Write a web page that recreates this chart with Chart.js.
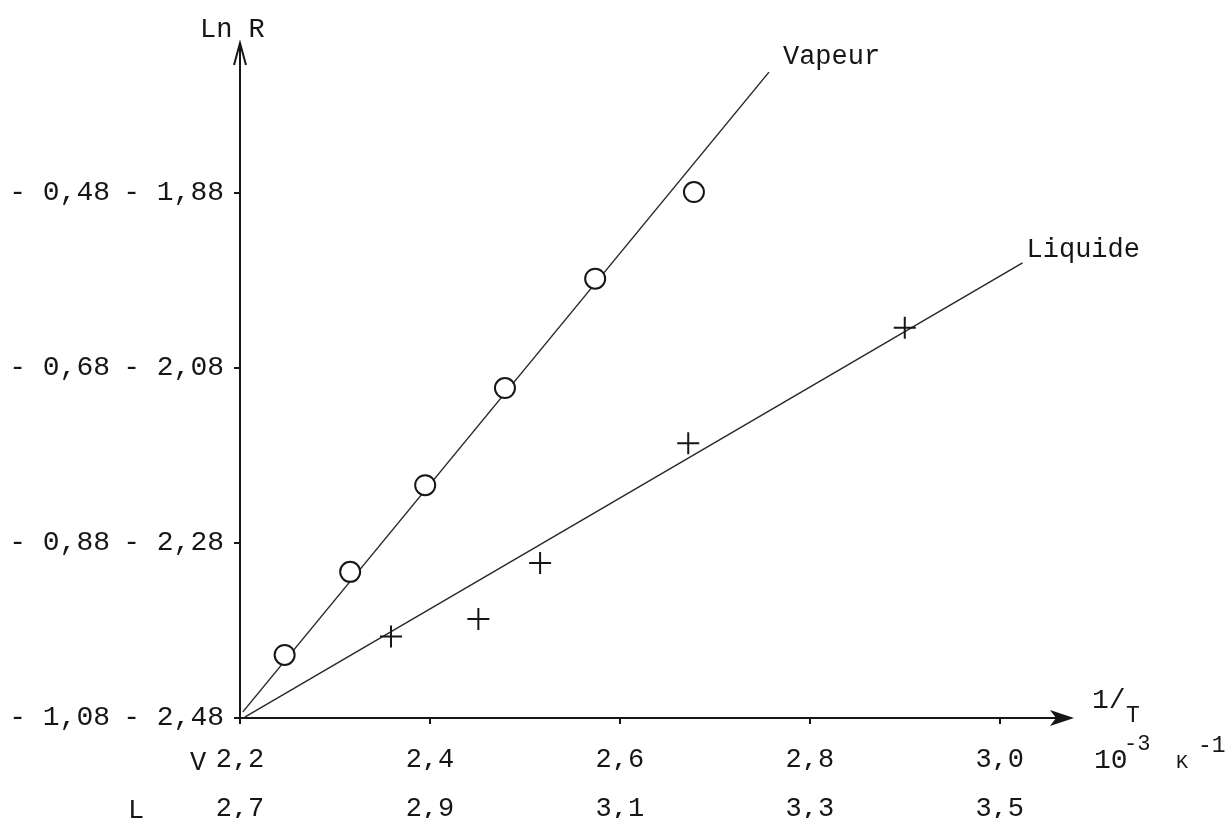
<!DOCTYPE html>
<html>
<head>
<meta charset="utf-8">
<script src="https://cdn.jsdelivr.net/npm/chart.js@4"></script>
<style>
  html, body { margin: 0; padding: 0; background: #fff; }
  #wrap { width: 1225px; height: 828px; }
</style>
</head>
<body>
<div id="wrap"><canvas id="myChart"></canvas></div>
<script>
// Vapeur (echelle V) : 1/T en 10^-3 K^-1, Ln R
const vapeurX = [2.247, 2.316, 2.395, 2.479, 2.574, 2.678];
const vapeurY = [-2.408, -2.313, -2.214, -2.103, -1.978, -1.879];
const vapeurFitX = [2.203, 2.757];
const vapeurFitY = [-2.473, -1.742];

// Liquide (echelle L)
const liquideX = [2.859, 2.951, 3.016, 3.172, 3.400];
const liquideY = [-0.987, -0.967, -0.903, -0.766, -0.634];
const liquideFitX = [2.705, 3.524];
const liquideFitY = [-1.079, -0.560];

const xTicksV = [2.2, 2.4, 2.6, 2.8, 3.0];
const xLabelsV = ["2,2", "2,4", "2,6", "2,8", "3,0"];
const xTicksL = [2.7, 2.9, 3.1, 3.3, 3.5];
const xLabelsL = ["2,7", "2,9", "3,1", "3,3", "3,5"];
const yTicksV = [-2.48, -2.28, -2.08, -1.88];
const yLabelsV = ["- 2,48", "- 2,28", "- 2,08", "- 1,88"];
const yTicksL = [-1.08, -0.88, -0.68, -0.48];
const yLabelsL = ["- 1,08", "- 0,88", "- 0,68", "- 0,48"];

const ink = "#161616";
const font = "Liberation Mono";

const toPoints = (xs, ys) => xs.map((x, i) => ({ x: x, y: ys[i] }));
const setTicks = (values) => (scale) => {
  scale.ticks = values.map((v) => ({ value: v }));
};

const axisDecor = {
  id: "axisDecor",
  afterDraw(chart) {
    const ctx = chart.ctx;
    const a = chart.chartArea;
    ctx.save();
    ctx.strokeStyle = ink;
    ctx.fillStyle = ink;
    ctx.lineWidth = 2;

    // fleche axe vertical
    ctx.beginPath();
    ctx.moveTo(a.left - 6, a.top + 20);
    ctx.lineTo(a.left, a.top - 2);
    ctx.lineTo(a.left + 6, a.top + 20);
    ctx.stroke();

    // fleche axe horizontal
    ctx.beginPath();
    ctx.moveTo(a.right + 4, a.bottom);
    ctx.lineTo(a.right - 20, a.bottom - 8);
    ctx.lineTo(a.right - 14, a.bottom);
    ctx.lineTo(a.right - 20, a.bottom + 8);
    ctx.closePath();
    ctx.fill();

    ctx.textBaseline = "alphabetic";
    ctx.textAlign = "left";
    ctx.font = "27px " + font;
    ctx.fillText("Ln R", a.left - 40, a.top - 8);

    const xs = chart.scales.x, ys = chart.scales.y;
    const xl = chart.scales.xL, yl = chart.scales.yL;
    const vx = xs.getPixelForValue(vapeurFitX[1]);
    const vy = ys.getPixelForValue(vapeurFitY[1]);
    ctx.fillText("Vapeur", vx + 14, vy - 8);
    const lx = xl.getPixelForValue(liquideFitX[1]);
    const ly = yl.getPixelForValue(liquideFitY[1]);
    ctx.fillText("Liquide", lx + 4, ly - 6);

    // unite de l'abscisse
    ctx.font = "28px " + font;
    ctx.fillText("1/", a.right + 22, a.bottom - 10);
    ctx.font = "23px " + font;
    ctx.fillText("T", a.right + 56, a.bottom + 4);
    ctx.font = "28px " + font;
    ctx.fillText("10", a.right + 24, a.bottom + 50);
    ctx.font = "22px " + font;
    ctx.fillText("-3", a.right + 54, a.bottom + 32);
    ctx.font = "20px " + font;
    ctx.fillText("K", a.right + 106, a.bottom + 50);
    ctx.font = "23px " + font;
    ctx.fillText("-1", a.right + 128, a.bottom + 34);

    // noms des echelles
    ctx.font = "27px " + font;
    ctx.fillText("V", a.left - 50, a.bottom + 52);
    ctx.fillText("L", a.left - 112, a.bottom + 100);
    ctx.restore();
  },
};

new Chart(document.getElementById("myChart"), {
  type: "scatter",
  data: {
    datasets: [
      {
        label: "Vapeur",
        data: toPoints(vapeurX, vapeurY),
        xAxisID: "x",
        yAxisID: "y",
        pointStyle: "circle",
        pointRadius: 10,
        borderWidth: 2,
        borderColor: ink,
        backgroundColor: "#fff",
        order: 0,
      },
      {
        label: "Liquide",
        data: toPoints(liquideX, liquideY),
        xAxisID: "xL",
        yAxisID: "yL",
        pointStyle: "cross",
        pointRadius: 11,
        borderWidth: 2,
        borderColor: ink,
        order: 0,
      },
      {
        label: "Vapeur (droite)",
        data: toPoints(vapeurFitX, vapeurFitY),
        xAxisID: "x",
        yAxisID: "y",
        showLine: true,
        pointRadius: 0,
        borderWidth: 1.5,
        borderColor: "#2a2a2a",
        order: 1,
      },
      {
        label: "Liquide (droite)",
        data: toPoints(liquideFitX, liquideFitY),
        xAxisID: "xL",
        yAxisID: "yL",
        showLine: true,
        pointRadius: 0,
        borderWidth: 1.5,
        borderColor: "#2a2a2a",
        order: 1,
      },
    ],
  },
  options: {
    responsive: true,
    maintainAspectRatio: false,
    animation: false,
    layout: { padding: { top: 45, right: 155, bottom: 10, left: 0 } },
    plugins: {
      legend: { display: false },
      tooltip: { enabled: false },
    },
    scales: {
      x: {
        type: "linear",
        position: "bottom",
        weight: 0,
        min: 2.2,
        max: 3.074,
        afterBuildTicks: setTicks(xTicksV),
        afterFit: (s) => { s.height = 52; },
        ticks: {
          callback: (v, i) => xLabelsV[i],
          color: ink,
          font: { family: font, size: 27 },
          padding: 20,
          maxRotation: 0,
        },
        grid: { drawOnChartArea: false, tickLength: 6, color: ink, lineWidth: 2 },
        border: { color: ink, width: 2 },
      },
      xL: {
        type: "linear",
        position: "bottom",
        weight: 1,
        min: 2.7,
        max: 3.574,
        afterBuildTicks: setTicks(xTicksL),
        afterFit: (s) => { s.height = 48; },
        ticks: {
          callback: (v, i) => xLabelsL[i],
          color: ink,
          font: { family: font, size: 27 },
          padding: 23,
          maxRotation: 0,
        },
        grid: { display: false, drawTicks: false },
        border: { display: false },
      },
      y: {
        type: "linear",
        position: "left",
        weight: 0,
        min: -2.48,
        max: -1.711,
        afterBuildTicks: setTicks(yTicksV),
        afterFit: (s) => { s.width = 126; },
        ticks: {
          callback: (v, i) => yLabelsV[i],
          color: ink,
          font: { family: font, size: 28 },
          padding: 10,
        },
        grid: { drawOnChartArea: false, tickLength: 6, color: ink, lineWidth: 2 },
        border: { color: ink, width: 2 },
      },
      yL: {
        type: "linear",
        position: "left",
        weight: 1,
        min: -1.08,
        max: -0.311,
        afterBuildTicks: setTicks(yTicksL),
        afterFit: (s) => { s.width = 114; },
        ticks: {
          callback: (v, i) => yLabelsL[i],
          color: ink,
          font: { family: font, size: 28 },
          padding: 4,
        },
        grid: { display: false, drawTicks: false },
        border: { display: false },
      },
    },
  },
  plugins: [axisDecor],
});
</script>
</body>
</html>
